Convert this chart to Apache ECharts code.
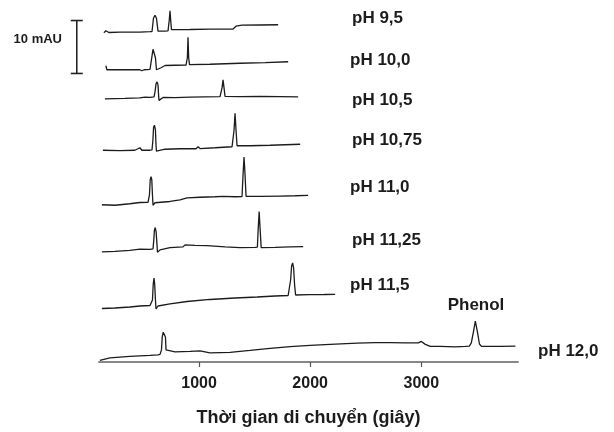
<!DOCTYPE html>
<html>
<head>
<meta charset="utf-8">
<script src="https://cdn.jsdelivr.net/npm/echarts@6/dist/echarts.min.js"></script>
<style>
  html, body { margin: 0; padding: 0; background: #fff; }
  #chart { width: 614px; height: 432px; }
</style>
</head>
<body>
<div id="chart"></div>
<script>
// thời gian (s) , tín hiệu (mAU) so với đường nền của từng pH
const trace_pH9_5 = [[144,-0.1],[162,0.28],[189,-0.06],[288,0],[468,0],[559,0.09],[577,0.13],[590,2.64],[604,3.21],[617,2.64],[631,0.19],[694,0.19],[721,0.23],[732,2.27],[739,4.02],[745,2.27],[752,0.47],[919,0.51],[1099,0.57],[1306,0.6],[1333,1.13],[1387,1.32],[1550,1.36],[1712,1.4]];
const trace_pH10_0 = [[162,0.76],[171,0],[180,0],[333,0],[468,0],[486,-0.19],[505,0],[559,0.09],[568,0.19],[577,2.64],[586,3.87],[599,3.78],[608,2.27],[617,0],[631,-0.19],[658,0.38],[694,0.81],[784,0.85],[883,0.89],[895,2.27],[901,6.14],[907,2.27],[914,0.98],[1099,1.04],[1369,1.23],[1595,1.36],[1802,1.51]];
const trace_pH10_5 = [[153,0],[333,0.09],[468,0.19],[514,0.34],[559,0.28],[595,0.38],[604,1.32],[613,2.83],[622,3.21],[631,2.64],[636,0.76],[640,-0.28],[649,0],[676,0.28],[784,0.25],[919,0.34],[1054,0.38],[1189,0.42],[1207,2.08],[1216,3.59],[1225,2.08],[1234,0.47],[1369,0.42],[1550,0.47],[1730,0.42],[1892,0.38]];
const trace_pH10_75 = [[135,0],[288,-0.09],[423,0],[468,0.47],[486,0],[559,0],[577,0.09],[585,1.89],[591,4.34],[599,4.72],[608,3.78],[613,0.94],[617,-0.19],[631,-0.09],[694,0.19],[829,0.28],[973,0.28],[991,0.66],[1009,0.32],[1144,0.47],[1297,0.66],[1315,3.78],[1324,6.99],[1333,3.78],[1342,0.85],[1459,0.85],[1640,0.94],[1775,1.04],[1910,1.13]];
const trace_pH11_0 = [[126,0],[243,-0.09],[378,0.19],[468,0.43],[541,0.47],[554,1.89],[561,4.72],[568,5.29],[575,4.72],[581,1.89],[586,-0.09],[604,0.38],[739,0.62],[829,0.94],[892,1.32],[1009,1.42],[1144,1.51],[1216,1.57],[1324,1.51],[1387,1.55],[1396,5.67],[1405,9.01],[1414,5.67],[1423,1.61],[1550,1.57],[1730,1.64],[1865,1.7],[1982,1.76]];
const trace_pH11_25 = [[126,0],[243,0.09],[378,0.28],[468,0.51],[559,0.47],[586,0.57],[593,2.27],[599,4.16],[606,4.59],[614,3.78],[622,1.32],[626,-0.06],[649,0.38],[739,0.81],[856,0.94],[874,1.32],[964,1.23],[1072,1.19],[1234,0.94],[1369,0.81],[1505,0.85],[1525,0.88],[1532,4.16],[1541,7.61],[1550,4.16],[1559,0.81],[1685,0.85],[1820,0.94],[1937,1.0]];
const trace_pH11_5 = [[126,-0.09],[243,0],[378,0.19],[468,0.38],[559,0.47],[581,1.51],[588,4.53],[595,5.67],[601,4.53],[608,1.51],[613,-0.19],[631,0.38],[739,0.76],[892,1.23],[1099,1.61],[1324,1.89],[1523,2.08],[1685,2.27],[1802,2.36],[1815,2.4],[1824,5.29],[1833,7.93],[1842,8.5],[1851,7.56],[1860,4.34],[1869,2.46],[1991,2.51],[2126,2.55],[2225,2.59]];
const trace_pH12_0 = [[108,-0.09],[198,0.38],[378,0.66],[559,0.85],[631,0.94],[649,1.04],[662,1.89],[669,4.34],[678,5.23],[690,5.23],[698,4.34],[703,1.89],[707,1.61],[784,1.51],[919,1.61],[1009,1.7],[1099,1.32],[1279,1.42],[1459,1.79],[1640,2.17],[1820,2.51],[2000,2.74],[2180,2.93],[2423,3.15],[2586,3.25],[2721,3.27],[2856,3.21],[2973,3.21],[3000,3.49],[3036,2.93],[3081,2.55],[3171,2.55],[3306,2.46],[3396,2.55],[3432,2.6],[3450,3.2],[3469,5.3],[3486,7.3],[3505,5.3],[3523,3.0],[3541,2.55],[3712,2.55],[3847,2.59]];

const traces = [trace_pH9_5, trace_pH10_0, trace_pH10_5, trace_pH10_75, trace_pH11_0, trace_pH11_25, trace_pH11_5, trace_pH12_0];
const traceNames = ['pH 9,5', 'pH 10,0', 'pH 10,5', 'pH 10,75', 'pH 11,0', 'pH 11,25', 'pH 11,5', 'pH 12,0'];
const xTicks = [1000, 2000, 3000];
const scaleBarMAU = 10;

// xếp chồng các đường (mAU)
const offsets = [62.3, 55.2, 49.7, 40.0, 29.7, 20.8, 10.2, 0.4];
// vị trí nhãn (px)
const labelPos = [[352, 18], [350, 60], [352, 100], [352, 140], [350, 187], [352, 240], [350, 285], [538, 351]];

const FONT = '"Liberation Sans", Arial, sans-serif';
const INK = '#1c1c1c';

const chart = echarts.init(document.getElementById('chart'));

let series = traces.map((tr, i) => ({
  name: traceNames[i],
  type: 'line',
  data: tr.map(p => [p[0], p[1] + offsets[i]]),
  symbol: 'none',
  lineStyle: { color: INK, width: 1.3 },
  silent: true,
  animation: false,
}));

// thanh tỉ lệ 10 mAU
series.push({
  type: 'custom',
  clip: false,
  silent: true,
  animation: false,
  data: [[-100, 54.5, 54.5 + scaleBarMAU]],
  renderItem: (params, api) => {
    const a = api.coord([api.value(0), api.value(1)]);
    const b = api.coord([api.value(0), api.value(2)]);
    const st = { stroke: '#222', lineWidth: 1.6 };
    return {
      type: 'group',
      children: [
        { type: 'line', shape: { x1: a[0], y1: a[1], x2: b[0], y2: b[1] }, style: st },
        { type: 'line', shape: { x1: a[0] - 6, y1: a[1], x2: a[0] + 6, y2: a[1] }, style: st },
        { type: 'line', shape: { x1: b[0] - 6, y1: b[1], x2: b[0] + 6, y2: b[1] }, style: st },
      ],
    };
  },
});

const labelStyle = (text, size, align) => ({
  text: text,
  fill: INK,
  fontFamily: FONT,
  fontWeight: 'bold',
  fontSize: size,
  align: align || 'left',
  verticalAlign: 'middle',
});

let graphics = traceNames.map((n, i) => ({
  type: 'text',
  x: labelPos[i][0],
  y: labelPos[i][1],
  silent: true,
  style: labelStyle(n, 17),
}));
graphics.push({ type: 'text', x: 476, y: 305, silent: true, style: labelStyle('Phenol', 17, 'center') });
graphics.push({ type: 'text', x: 62, y: 39, silent: true, style: labelStyle('10 mAU', 13, 'right') });

chart.setOption({
  backgroundColor: '#fff',
  animation: false,
  grid: { left: 99, right: 96, top: 2, bottom: 70 },
  xAxis: {
    type: 'value',
    min: 100,
    max: 3870,
    axisLine: { show: true, lineStyle: { color: '#888', width: 2 } },
    axisTick: { show: true, customValues: xTicks, length: 5, lineStyle: { color: '#555', width: 1.2 } },
    axisLabel: {
      customValues: xTicks,
      formatter: v => String(v),
      color: INK,
      fontFamily: FONT,
      fontWeight: 'bold',
      fontSize: 16,
      margin: 14,
    },
    splitLine: { show: false },
    name: 'Thời gian di chuyển (giây)',
    nameLocation: 'middle',
    nameGap: 47,
    nameTextStyle: { color: INK, fontFamily: FONT, fontWeight: 'bold', fontSize: 18 },
  },
  yAxis: {
    type: 'value',
    min: 0,
    max: 68,
    show: false,
  },
  series: series,
  graphic: graphics,
});
</script>
</body>
</html>
